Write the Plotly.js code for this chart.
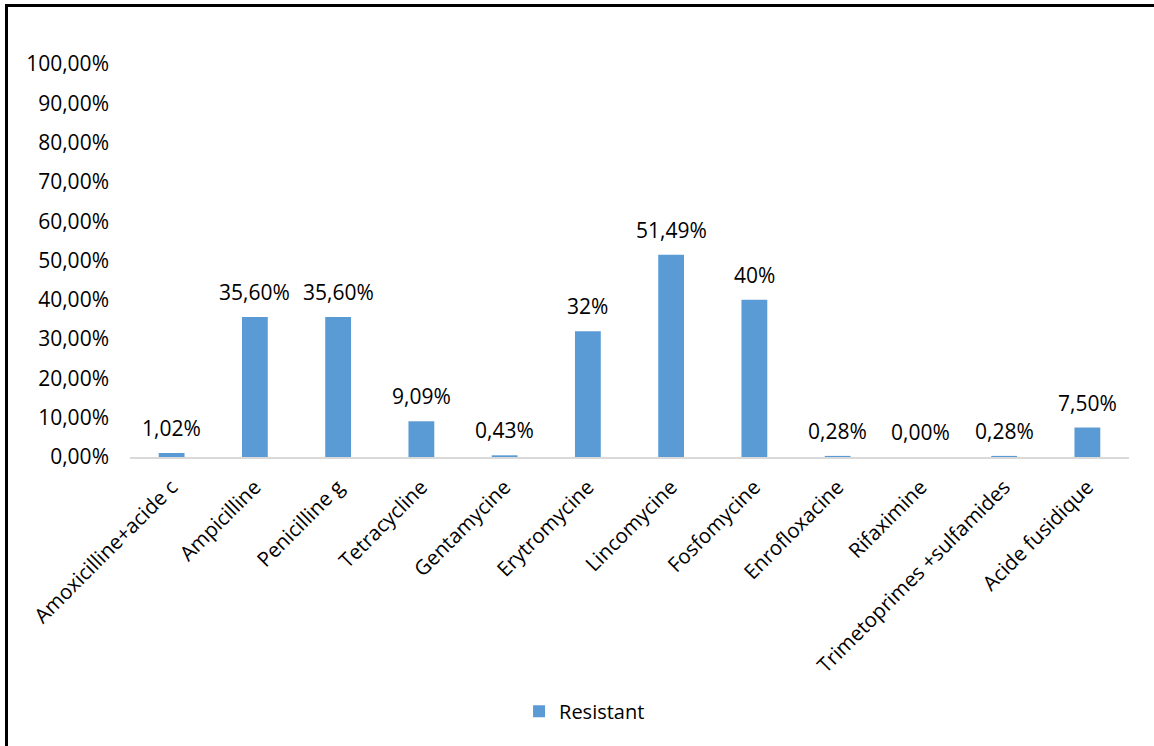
<!DOCTYPE html>
<html>
<head>
<meta charset="utf-8">
<script src="https://cdn.plot.ly/plotly-3.0.1.min.js"></script>
<style>
html,body{margin:0;padding:0;background:#fff;}
#wrap{position:relative;width:1154px;height:746px;overflow:hidden;}
#chart{position:absolute;left:0;top:0;width:1154px;height:746px;}
#frame{position:absolute;left:5px;top:4px;width:1200px;height:800px;border-left:3px solid #000;border-top:3px solid #000;pointer-events:none;}
</style>
</head>
<body>
<div id="wrap"><div id="chart"></div><div id="frame"></div></div>
<script>
const categories = ["Amoxicilline+acide c","Ampicilline","Penicilline g","Tetracycline","Gentamycine","Erytromycine","Lincomycine","Fosfomycine","Enrofloxacine","Rifaximine","Trimetoprimes +sulfamides","Acide fusidique"];
const resistant = [0.0102,0.356,0.356,0.0909,0.0043,0.32,0.5149,0.40,0.0028,0.0,0.0028,0.075];
const labels = ["1,02%","35,60%","35,60%","9,09%","0,43%","32%","51,49%","40%","0,28%","0,00%","0,28%","7,50%"];
const yTicks = [0,0.1,0.2,0.3,0.4,0.5,0.6,0.7,0.8,0.9,1.0];

const FONT = "Open Sans, Noto Sans, sans-serif";
const annotations = categories.map((c, i) => ({
  x: c, y: resistant[i], xref: 'x', yref: 'y',
  text: labels[i], showarrow: false,
  yanchor: 'middle', xanchor: 'center', yshift: 25,
  font: {family: FONT, size: 21, color: '#000'}
}));

Plotly.newPlot('chart', [{
  type:'bar', name:'Resistant', x:categories, y:resistant,
  marker:{color:'#5b9bd5'}
}], {
  width:1154, height:746,
  margin:{l:130,r:25,t:64,b:289,autoexpand:false},
  separators:',.',
  bargap:0.69,
  paper_bgcolor:'#fff', plot_bgcolor:'#fff',
  font:{family:FONT,size:20,color:'#000'},
  showlegend:true,
  legend:{orientation:'h',x:0.455,xanchor:'center',y:-0.647,yanchor:'middle',font:{family:FONT,size:20,color:'#000'}},
  annotations: annotations,
  xaxis:{tickangle:-45,showline:true,linecolor:'#d9d9d9',linewidth:2,ticks:'',showgrid:false,automargin:false,ticklabelstandoff:8,tickfont:{family:FONT,size:20.5,color:'#000'}},
  yaxis:{range:[0,1],tickvals:yTicks,tickformat:'.2%',showgrid:false,zeroline:false,showline:false,ticks:'',ticklen:0,automargin:false,ticklabelstandoff:20,tickfont:{family:FONT,size:21,color:'#000'}}
}, {displayModeBar:false, staticPlot:true});
</script>
</body>
</html>
